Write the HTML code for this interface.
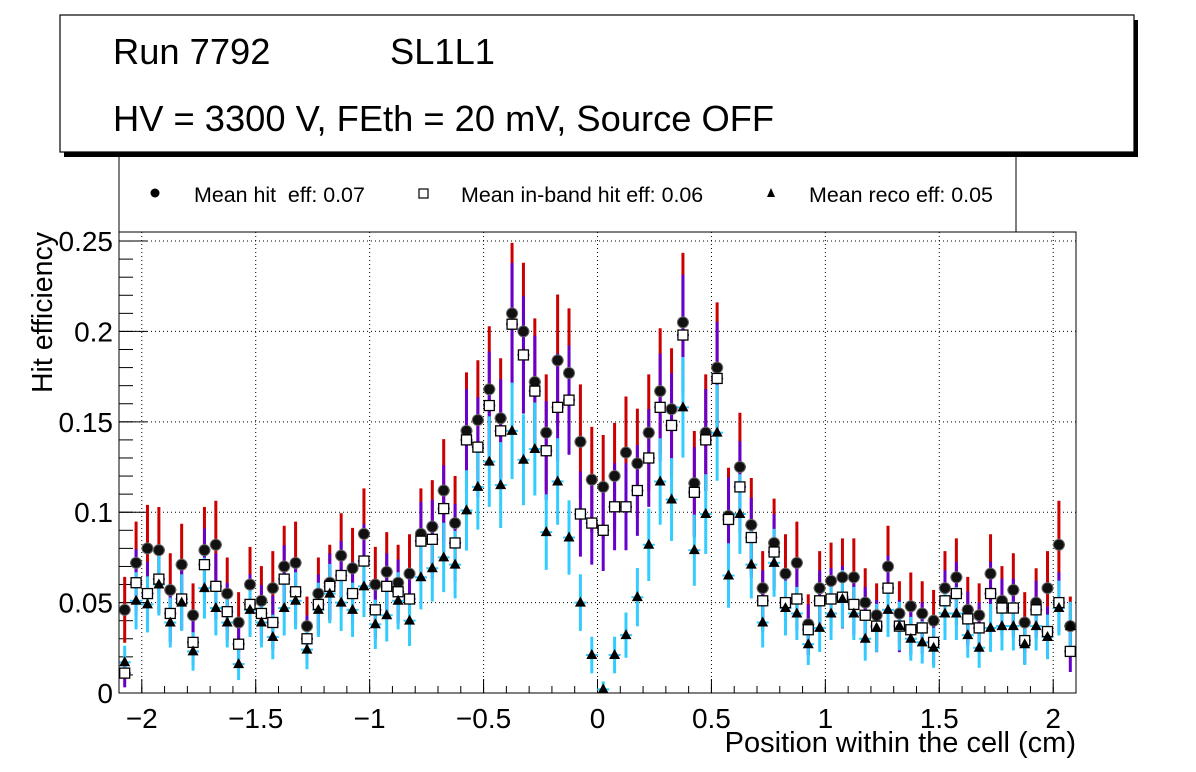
<!DOCTYPE html>
<html><head><meta charset="utf-8"><style>
html,body{margin:0;padding:0;background:#fff;}
svg{display:block;font-family:"Liberation Sans",Arial,sans-serif;}
</style></head><body>
<svg id="chart" width="1196" height="772" viewBox="0 0 1196 772" xmlns="http://www.w3.org/2000/svg">
<rect x="0" y="0" width="1196" height="772" fill="#fff"/>
<g id="grid"></g>
<g id="axes"></g>
<g id="marks"></g>
<rect x="119" y="232" width="957" height="461" fill="none" stroke="#000" stroke-width="1"/>
<g>
<rect x="119" y="140" width="897" height="92" fill="#fff" stroke="#000" stroke-width="1"/>
<circle cx="155" cy="193" r="4.5" fill="#000"/>
<text x="194" y="202" font-size="21.4">Mean hit&#160; eff: 0.07</text>
<rect x="419" y="189" width="9" height="9" fill="#fff" stroke="#000" stroke-width="1.2"/>
<text x="461" y="202" font-size="21.4">Mean in-band hit eff: 0.06</text>
<polygon points="771,188 767,197 775,197" fill="#000"/>
<text x="809" y="202" font-size="21.4">Mean reco eff: 0.05</text>
</g>
<g>
<rect x="64" y="20" width="1074" height="137" fill="#000"/>
<rect x="60" y="15" width="1074" height="137" fill="#fff" stroke="#000" stroke-width="1.2"/>
<text x="113" y="64" font-size="36.3">Run 7792</text>
<text x="390" y="64" font-size="36.3">SL1L1</text>
<text x="113" y="131" font-size="36.3">HV = 3300 V, FEth = 20 mV, Source OFF</text>
</g>
<text transform="translate(52,232) rotate(-90)" text-anchor="end" font-size="28.5">Hit efficiency</text>
<text x="1076" y="752" text-anchor="end" font-size="29">Position within the cell (cm)</text>
</svg>
<script>
const binCenters = [];
const nBins = 84;
const hitEff = [0.046,0.072,0.080,0.079,0.057,0.071,0.043,0.079,0.082,0.055,0.039,0.060,0.051,0.058,0.070,0.072,0.037,0.055,0.061,0.076,0.069,0.088,
0.060,0.067,0.061,0.066,0.088,0.092,0.112,0.094,0.145,0.151,0.168,0.152,0.210,0.200,0.172,0.144,0.184,0.177,0.139,0.118,0.114,
0.120,0.133,0.127,0.144,0.167,0.157,0.205,0.116,0.144,0.180,0.098,0.125,0.093,0.058,0.083,0.066,0.072,0.038,0.058,0.062,
0.064,0.064,0.050,0.043,0.070,0.044,0.048,0.044,0.040,0.058,0.064,0.046,0.043,0.066,0.051,0.057,0.039,0.050,0.058,0.082,0.037];
const inbandEff = [0.011,0.061,0.055,0.063,0.044,0.052,0.028,0.071,0.059,0.045,0.027,0.049,0.044,0.039,0.063,0.056,0.030,0.049,0.059,0.065,0.055,0.073,
0.046,0.059,0.056,0.052,0.084,0.085,0.102,0.083,0.140,0.136,0.159,0.145,0.204,0.187,0.167,0.134,0.158,0.162,0.099,0.094,0.090,
0.103,0.103,0.112,0.130,0.158,0.148,0.198,0.111,0.140,0.174,0.096,0.114,0.086,0.051,0.078,0.050,0.052,0.035,0.051,0.052,
0.053,0.049,0.043,0.037,0.058,0.037,0.035,0.036,0.028,0.051,0.055,0.041,0.036,0.055,0.047,0.047,0.029,0.046,0.034,0.050,0.023];
const recoEff = [0.017,0.051,0.049,0.060,0.039,0.050,0.023,0.058,0.047,0.039,0.016,0.046,0.039,0.031,0.047,0.051,0.024,0.046,0.055,0.050,0.046,0.059,
0.038,0.043,0.051,0.040,0.064,0.069,0.075,0.071,0.101,0.114,0.128,0.115,0.145,0.129,0.135,0.089,0.117,0.086,0.050,0.021,0.002,
0.021,0.032,0.053,0.082,0.117,0.107,0.158,0.079,0.099,0.144,0.065,0.099,0.071,0.039,0.072,0.047,0.044,0.027,0.036,0.044,
0.052,0.044,0.030,0.036,0.046,0.037,0.030,0.028,0.025,0.044,0.044,0.032,0.025,0.036,0.037,0.037,0.027,0.037,0.031,0.047,0.037];
for (let i = 0; i < nBins; i++) binCenters.push(-2.075 + 0.05 * i);
const xTicks = [-2,-1.5,-1,-0.5,0,0.5,1,1.5,2];
const xTickLabels = ["\u22122","\u22121.5","\u22121","\u22120.5","0","0.5","1","1.5","2"];
const yTicks = [0,0.05,0.1,0.15,0.2,0.25];
const yTickLabels = ["0","0.05","0.1","0.15","0.2","0.25"];

const X0 = 119, X1 = 1076, Y0 = 693, Y1 = 232;
const xMin = -2.1, xMax = 2.1, yMin = 0, yMax = 0.255;
const xs = v => X0 + (v - xMin) / (xMax - xMin) * (X1 - X0);
const ys = v => Y0 - (v - yMin) / (yMax - yMin) * (Y0 - Y1);
// statistical uncertainty derived from the efficiency value
const errOf = (v, k) => k * Math.sqrt(Math.max(v, 0.004));

const NS = "http://www.w3.org/2000/svg";
function mk(tag, attrs, parent) {
  const e = document.createElementNS(NS, tag);
  for (const k in attrs) e.setAttribute(k, attrs[k]);
  parent.appendChild(e);
  return e;
}
const grid = document.getElementById('grid');
const axes = document.getElementById('axes');
const marks = document.getElementById('marks');

xTicks.forEach((t, i) => {
  const x = xs(t);
  const g = mk('line', {x1:x, x2:x, y1:Y1, y2:Y0, stroke:'#000', 'stroke-width':1, 'stroke-dasharray':'1,3'}, grid);
  
  
  const tk = mk('line', {x1:x, x2:x, y1:Y0, y2:Y0-14, stroke:'#000', 'stroke-width':1}, axes);
  
  
  const lb = mk('text', {x:x, y:728, 'text-anchor':'middle', 'font-size':28}, axes);
  lb.textContent = xTickLabels[i];
  
  
});
for (let v = -2.1; v <= 2.1001; v += 0.1) {
  const x = xs(v);
  const tk = mk('line', {x1:x, x2:x, y1:Y0, y2:Y0-7, stroke:'#000', 'stroke-width':1}, axes);
  
  
}
yTicks.forEach((t, i) => {
  const y = ys(t);
  if (t > 0) {
    const g = mk('line', {x1:X0, x2:X1, y1:y, y2:y, stroke:'#000', 'stroke-width':1, 'stroke-dasharray':'1,3'}, grid);
    
    
  }
  const tk = mk('line', {x1:X0, x2:X0+28, y1:y, y2:y, stroke:'#000', 'stroke-width':1}, axes);
  
  
  const lb = mk('text', {x:113, y:y+10, 'text-anchor':'end', 'font-size':28}, axes);
  lb.textContent = yTickLabels[i];
  
  
});
for (let v = 0.01; v < 0.255; v += 0.01) {
  const y = ys(v);
  const tk = mk('line', {x1:X0, x2:X0+14, y1:y, y2:y, stroke:'#000', 'stroke-width':1}, axes);
  
  
}

function errBar(x, v, e, color, name) {
  const top = Math.max(ys(v + e), Y1), bot = Math.min(ys(v - e), Y0);
  const l = mk('line', {x1:x, x2:x, y1:top, y2:bot, stroke:color, 'stroke-width':3}, marks);
  
  
  const h = mk('line', {x1:x-6, x2:x+6, y1:ys(v), y2:ys(v), stroke:color, 'stroke-width':2}, marks);
  
  
}
binCenters.forEach((c, i) => {
  const x = xs(c);
  errBar(x, hitEff[i], errOf(hitEff[i], 0.085), '#cc0000', 'hit-error-bar');
  errBar(x, inbandEff[i], errOf(inbandEff[i], 0.075), '#6600cc', 'inband-error-bar');
  errBar(x, recoEff[i], errOf(recoEff[i], 0.07), '#33ccff', 'reco-error-bar');
});
binCenters.forEach((c, i) => {
  const x = xs(c);
  const d = mk('circle', {cx:x, cy:ys(hitEff[i]), r:5.5, fill:'#111', stroke:'#666', 'stroke-width':1}, marks);
  
  
  const s = mk('rect', {x:x-5, y:ys(inbandEff[i])-5, width:10, height:10, fill:'#fff', stroke:'#000', 'stroke-width':1.3}, marks);
  
  
  const yy = ys(recoEff[i]);
  const t = mk('polygon', {points:`${x},${yy-6} ${x-5.5},${yy+4} ${x+5.5},${yy+4}`, fill:'#000'}, marks);
  
  
});
</script>
</body></html>
